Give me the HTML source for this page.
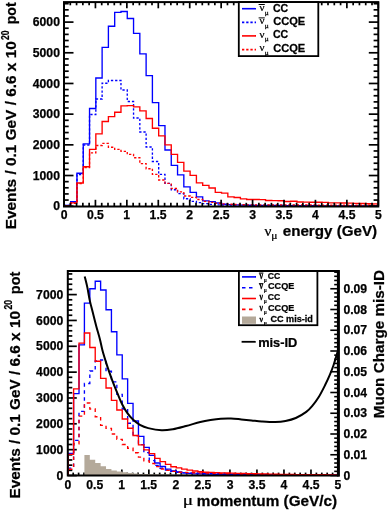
<!DOCTYPE html>
<html><head><meta charset="utf-8"><style>
html,body{margin:0;padding:0;background:#fff;width:390px;height:512px;overflow:hidden}
svg{display:block;will-change:transform}
text{stroke:#000;stroke-width:0.25px}
</style></head><body>
<svg width="390" height="512" viewBox="0 0 390 512" font-family='"Liberation Sans", sans-serif'>
<rect width="390" height="512" fill="#fff"/>
<path d="M64.40,206.20V205.30H70.69V201.60H76.97V173.20H83.26V143.80H89.54V108.50H95.83V78.00H102.12V47.40H108.40V26.20H114.69V12.30H120.97V11.50H127.26V18.50H133.55V33.30H139.83V53.80H146.12V75.60H152.40V102.60H158.69V125.60H164.98V150.00H171.26V165.40H177.55V174.90H183.83V186.90H190.12V192.30H196.41V196.90H202.69V200.80H208.98V201.60H215.26V203.00H221.55V204.20H227.84V204.60H234.12V204.90H240.41V205.10H246.69V205.20H252.98V205.30H259.27V205.40H265.55V205.40H271.84V205.50H278.12V205.50H284.41V205.60H290.70V205.60H296.98V205.60H303.27V205.70H309.55V205.70H315.84V205.70H322.13V205.80H328.41V205.80H334.70V205.80H340.98V205.80H347.27V205.80H353.56V205.90H359.84V205.90H366.13V205.90H372.41V205.90H378.70" fill="none" stroke="#0000ff" stroke-width="1.35"/>
<path d="M64.40,206.20V205.40H70.69V202.00H76.97V174.50H83.26V145.00H89.54V114.50H95.83V99.00H102.12V83.20H108.40V80.50H114.69V80.50H120.97V90.00H127.26V101.50H133.55V118.00H139.83V132.00H146.12V147.00H152.40V161.50H158.69V174.40H164.98V183.30H171.26V189.70H177.55V193.60H183.83V198.70H190.12V201.30H196.41V202.60H202.69V203.60H208.98V204.30H215.26V204.80H221.55V205.10H227.84V205.10H234.12V205.10H240.41V205.10H246.69V205.10H252.98V205.30H259.27V205.30H265.55V205.30H271.84V205.30H278.12V205.30H284.41V205.50H290.70V205.50H296.98V205.50H303.27V205.50H309.55V205.50H315.84V205.70H322.13V205.70H328.41V205.70H334.70V205.70H340.98V205.70H347.27V205.70H353.56V205.70H359.84V205.70H366.13V205.70H372.41V205.70H378.70" fill="none" stroke="#0000ff" stroke-width="1.35" stroke-dasharray="2.3 1.9"/>
<path d="M64.40,206.20V205.60H70.69V202.90H76.97V183.00H83.26V166.70H89.54V149.30H95.83V133.80H102.12V121.50H108.40V116.60H114.69V112.20H120.97V105.80H127.26V105.60H133.55V106.90H139.83V110.80H146.12V118.50H152.40V128.20H158.69V135.90H164.98V144.90H171.26V154.40H177.55V162.30H183.83V171.10H190.12V175.40H196.41V182.80H202.69V185.40H208.98V188.00H215.26V192.30H221.55V193.10H227.84V196.90H234.12V197.50H240.41V198.80H246.69V199.50H252.98V199.50H259.27V199.60H265.55V200.50H271.84V200.60H278.12V200.70H284.41V201.50H290.70V201.20H296.98V202.00H303.27V202.10H309.55V202.20H315.84V202.20H322.13V202.30H328.41V202.80H334.70V202.90H340.98V203.00H347.27V203.10H353.56V203.30H359.84V203.50H366.13V203.70H372.41V203.90H378.70" fill="none" stroke="#ff0000" stroke-width="1.35"/>
<path d="M64.40,206.20V205.70H70.69V203.20H76.97V183.50H83.26V167.50H89.54V152.80H95.83V145.50H102.12V143.30H108.40V147.20H114.69V149.30H120.97V151.30H127.26V154.40H133.55V157.70H139.83V163.60H146.12V168.70H152.40V174.40H158.69V180.00H164.98V183.30H171.26V188.50H177.55V191.80H183.83V196.00H190.12V197.40H196.41V199.50H202.69V201.30H208.98V202.40H215.26V203.20H221.55V203.80H227.84V204.20H234.12V204.50H240.41V204.70H246.69V204.90H252.98V205.00H259.27V205.00H265.55V205.00H271.84V205.00H278.12V205.00H284.41V205.00H290.70V205.00H296.98V205.00H303.27V205.00H309.55V205.00H315.84V205.20H322.13V205.20H328.41V205.20H334.70V205.20H340.98V205.20H347.27V205.20H353.56V205.20H359.84V205.20H366.13V205.20H372.41V205.20H378.70" fill="none" stroke="#ff0000" stroke-width="1.35" stroke-dasharray="2.3 1.9"/>
<line x1="64.00" y1="206.20" x2="73.50" y2="206.20" stroke="#000" stroke-width="1.7" />
<line x1="378.30" y1="206.20" x2="368.80" y2="206.20" stroke="#000" stroke-width="1.7" />
<line x1="64.00" y1="200.06" x2="68.70" y2="200.06" stroke="#000" stroke-width="1.7" />
<line x1="378.30" y1="200.06" x2="373.60" y2="200.06" stroke="#000" stroke-width="1.7" />
<line x1="64.00" y1="193.93" x2="68.70" y2="193.93" stroke="#000" stroke-width="1.7" />
<line x1="378.30" y1="193.93" x2="373.60" y2="193.93" stroke="#000" stroke-width="1.7" />
<line x1="64.00" y1="187.79" x2="68.70" y2="187.79" stroke="#000" stroke-width="1.7" />
<line x1="378.30" y1="187.79" x2="373.60" y2="187.79" stroke="#000" stroke-width="1.7" />
<line x1="64.00" y1="181.65" x2="68.70" y2="181.65" stroke="#000" stroke-width="1.7" />
<line x1="378.30" y1="181.65" x2="373.60" y2="181.65" stroke="#000" stroke-width="1.7" />
<line x1="64.00" y1="175.52" x2="73.50" y2="175.52" stroke="#000" stroke-width="1.7" />
<line x1="378.30" y1="175.52" x2="368.80" y2="175.52" stroke="#000" stroke-width="1.7" />
<line x1="64.00" y1="169.38" x2="68.70" y2="169.38" stroke="#000" stroke-width="1.7" />
<line x1="378.30" y1="169.38" x2="373.60" y2="169.38" stroke="#000" stroke-width="1.7" />
<line x1="64.00" y1="163.24" x2="68.70" y2="163.24" stroke="#000" stroke-width="1.7" />
<line x1="378.30" y1="163.24" x2="373.60" y2="163.24" stroke="#000" stroke-width="1.7" />
<line x1="64.00" y1="157.11" x2="68.70" y2="157.11" stroke="#000" stroke-width="1.7" />
<line x1="378.30" y1="157.11" x2="373.60" y2="157.11" stroke="#000" stroke-width="1.7" />
<line x1="64.00" y1="150.97" x2="68.70" y2="150.97" stroke="#000" stroke-width="1.7" />
<line x1="378.30" y1="150.97" x2="373.60" y2="150.97" stroke="#000" stroke-width="1.7" />
<line x1="64.00" y1="144.83" x2="73.50" y2="144.83" stroke="#000" stroke-width="1.7" />
<line x1="378.30" y1="144.83" x2="368.80" y2="144.83" stroke="#000" stroke-width="1.7" />
<line x1="64.00" y1="138.70" x2="68.70" y2="138.70" stroke="#000" stroke-width="1.7" />
<line x1="378.30" y1="138.70" x2="373.60" y2="138.70" stroke="#000" stroke-width="1.7" />
<line x1="64.00" y1="132.56" x2="68.70" y2="132.56" stroke="#000" stroke-width="1.7" />
<line x1="378.30" y1="132.56" x2="373.60" y2="132.56" stroke="#000" stroke-width="1.7" />
<line x1="64.00" y1="126.42" x2="68.70" y2="126.42" stroke="#000" stroke-width="1.7" />
<line x1="378.30" y1="126.42" x2="373.60" y2="126.42" stroke="#000" stroke-width="1.7" />
<line x1="64.00" y1="120.29" x2="68.70" y2="120.29" stroke="#000" stroke-width="1.7" />
<line x1="378.30" y1="120.29" x2="373.60" y2="120.29" stroke="#000" stroke-width="1.7" />
<line x1="64.00" y1="114.15" x2="73.50" y2="114.15" stroke="#000" stroke-width="1.7" />
<line x1="378.30" y1="114.15" x2="368.80" y2="114.15" stroke="#000" stroke-width="1.7" />
<line x1="64.00" y1="108.01" x2="68.70" y2="108.01" stroke="#000" stroke-width="1.7" />
<line x1="378.30" y1="108.01" x2="373.60" y2="108.01" stroke="#000" stroke-width="1.7" />
<line x1="64.00" y1="101.88" x2="68.70" y2="101.88" stroke="#000" stroke-width="1.7" />
<line x1="378.30" y1="101.88" x2="373.60" y2="101.88" stroke="#000" stroke-width="1.7" />
<line x1="64.00" y1="95.74" x2="68.70" y2="95.74" stroke="#000" stroke-width="1.7" />
<line x1="378.30" y1="95.74" x2="373.60" y2="95.74" stroke="#000" stroke-width="1.7" />
<line x1="64.00" y1="89.60" x2="68.70" y2="89.60" stroke="#000" stroke-width="1.7" />
<line x1="378.30" y1="89.60" x2="373.60" y2="89.60" stroke="#000" stroke-width="1.7" />
<line x1="64.00" y1="83.47" x2="73.50" y2="83.47" stroke="#000" stroke-width="1.7" />
<line x1="378.30" y1="83.47" x2="368.80" y2="83.47" stroke="#000" stroke-width="1.7" />
<line x1="64.00" y1="77.33" x2="68.70" y2="77.33" stroke="#000" stroke-width="1.7" />
<line x1="378.30" y1="77.33" x2="373.60" y2="77.33" stroke="#000" stroke-width="1.7" />
<line x1="64.00" y1="71.19" x2="68.70" y2="71.19" stroke="#000" stroke-width="1.7" />
<line x1="378.30" y1="71.19" x2="373.60" y2="71.19" stroke="#000" stroke-width="1.7" />
<line x1="64.00" y1="65.06" x2="68.70" y2="65.06" stroke="#000" stroke-width="1.7" />
<line x1="378.30" y1="65.06" x2="373.60" y2="65.06" stroke="#000" stroke-width="1.7" />
<line x1="64.00" y1="58.92" x2="68.70" y2="58.92" stroke="#000" stroke-width="1.7" />
<line x1="378.30" y1="58.92" x2="373.60" y2="58.92" stroke="#000" stroke-width="1.7" />
<line x1="64.00" y1="52.78" x2="73.50" y2="52.78" stroke="#000" stroke-width="1.7" />
<line x1="378.30" y1="52.78" x2="368.80" y2="52.78" stroke="#000" stroke-width="1.7" />
<line x1="64.00" y1="46.65" x2="68.70" y2="46.65" stroke="#000" stroke-width="1.7" />
<line x1="378.30" y1="46.65" x2="373.60" y2="46.65" stroke="#000" stroke-width="1.7" />
<line x1="64.00" y1="40.51" x2="68.70" y2="40.51" stroke="#000" stroke-width="1.7" />
<line x1="378.30" y1="40.51" x2="373.60" y2="40.51" stroke="#000" stroke-width="1.7" />
<line x1="64.00" y1="34.38" x2="68.70" y2="34.38" stroke="#000" stroke-width="1.7" />
<line x1="378.30" y1="34.38" x2="373.60" y2="34.38" stroke="#000" stroke-width="1.7" />
<line x1="64.00" y1="28.24" x2="68.70" y2="28.24" stroke="#000" stroke-width="1.7" />
<line x1="378.30" y1="28.24" x2="373.60" y2="28.24" stroke="#000" stroke-width="1.7" />
<line x1="64.00" y1="22.10" x2="73.50" y2="22.10" stroke="#000" stroke-width="1.7" />
<line x1="378.30" y1="22.10" x2="368.80" y2="22.10" stroke="#000" stroke-width="1.7" />
<line x1="64.00" y1="15.97" x2="68.70" y2="15.97" stroke="#000" stroke-width="1.7" />
<line x1="378.30" y1="15.97" x2="373.60" y2="15.97" stroke="#000" stroke-width="1.7" />
<line x1="64.00" y1="9.83" x2="68.70" y2="9.83" stroke="#000" stroke-width="1.7" />
<line x1="378.30" y1="9.83" x2="373.60" y2="9.83" stroke="#000" stroke-width="1.7" />
<line x1="64.00" y1="3.69" x2="68.70" y2="3.69" stroke="#000" stroke-width="1.7" />
<line x1="378.30" y1="3.69" x2="373.60" y2="3.69" stroke="#000" stroke-width="1.7" />
<line x1="64.00" y1="206.20" x2="64.00" y2="199.80" stroke="#000" stroke-width="1.7" />
<line x1="64.00" y1="2.10" x2="64.00" y2="8.30" stroke="#000" stroke-width="1.7" />
<line x1="70.29" y1="206.20" x2="70.29" y2="202.80" stroke="#000" stroke-width="1.7" />
<line x1="70.29" y1="2.10" x2="70.29" y2="5.30" stroke="#000" stroke-width="1.7" />
<line x1="76.57" y1="206.20" x2="76.57" y2="202.80" stroke="#000" stroke-width="1.7" />
<line x1="76.57" y1="2.10" x2="76.57" y2="5.30" stroke="#000" stroke-width="1.7" />
<line x1="82.86" y1="206.20" x2="82.86" y2="202.80" stroke="#000" stroke-width="1.7" />
<line x1="82.86" y1="2.10" x2="82.86" y2="5.30" stroke="#000" stroke-width="1.7" />
<line x1="89.14" y1="206.20" x2="89.14" y2="202.80" stroke="#000" stroke-width="1.7" />
<line x1="89.14" y1="2.10" x2="89.14" y2="5.30" stroke="#000" stroke-width="1.7" />
<line x1="95.43" y1="206.20" x2="95.43" y2="199.80" stroke="#000" stroke-width="1.7" />
<line x1="95.43" y1="2.10" x2="95.43" y2="8.30" stroke="#000" stroke-width="1.7" />
<line x1="101.72" y1="206.20" x2="101.72" y2="202.80" stroke="#000" stroke-width="1.7" />
<line x1="101.72" y1="2.10" x2="101.72" y2="5.30" stroke="#000" stroke-width="1.7" />
<line x1="108.00" y1="206.20" x2="108.00" y2="202.80" stroke="#000" stroke-width="1.7" />
<line x1="108.00" y1="2.10" x2="108.00" y2="5.30" stroke="#000" stroke-width="1.7" />
<line x1="114.29" y1="206.20" x2="114.29" y2="202.80" stroke="#000" stroke-width="1.7" />
<line x1="114.29" y1="2.10" x2="114.29" y2="5.30" stroke="#000" stroke-width="1.7" />
<line x1="120.57" y1="206.20" x2="120.57" y2="202.80" stroke="#000" stroke-width="1.7" />
<line x1="120.57" y1="2.10" x2="120.57" y2="5.30" stroke="#000" stroke-width="1.7" />
<line x1="126.86" y1="206.20" x2="126.86" y2="199.80" stroke="#000" stroke-width="1.7" />
<line x1="126.86" y1="2.10" x2="126.86" y2="8.30" stroke="#000" stroke-width="1.7" />
<line x1="133.15" y1="206.20" x2="133.15" y2="202.80" stroke="#000" stroke-width="1.7" />
<line x1="133.15" y1="2.10" x2="133.15" y2="5.30" stroke="#000" stroke-width="1.7" />
<line x1="139.43" y1="206.20" x2="139.43" y2="202.80" stroke="#000" stroke-width="1.7" />
<line x1="139.43" y1="2.10" x2="139.43" y2="5.30" stroke="#000" stroke-width="1.7" />
<line x1="145.72" y1="206.20" x2="145.72" y2="202.80" stroke="#000" stroke-width="1.7" />
<line x1="145.72" y1="2.10" x2="145.72" y2="5.30" stroke="#000" stroke-width="1.7" />
<line x1="152.00" y1="206.20" x2="152.00" y2="202.80" stroke="#000" stroke-width="1.7" />
<line x1="152.00" y1="2.10" x2="152.00" y2="5.30" stroke="#000" stroke-width="1.7" />
<line x1="158.29" y1="206.20" x2="158.29" y2="199.80" stroke="#000" stroke-width="1.7" />
<line x1="158.29" y1="2.10" x2="158.29" y2="8.30" stroke="#000" stroke-width="1.7" />
<line x1="164.58" y1="206.20" x2="164.58" y2="202.80" stroke="#000" stroke-width="1.7" />
<line x1="164.58" y1="2.10" x2="164.58" y2="5.30" stroke="#000" stroke-width="1.7" />
<line x1="170.86" y1="206.20" x2="170.86" y2="202.80" stroke="#000" stroke-width="1.7" />
<line x1="170.86" y1="2.10" x2="170.86" y2="5.30" stroke="#000" stroke-width="1.7" />
<line x1="177.15" y1="206.20" x2="177.15" y2="202.80" stroke="#000" stroke-width="1.7" />
<line x1="177.15" y1="2.10" x2="177.15" y2="5.30" stroke="#000" stroke-width="1.7" />
<line x1="183.43" y1="206.20" x2="183.43" y2="202.80" stroke="#000" stroke-width="1.7" />
<line x1="183.43" y1="2.10" x2="183.43" y2="5.30" stroke="#000" stroke-width="1.7" />
<line x1="189.72" y1="206.20" x2="189.72" y2="199.80" stroke="#000" stroke-width="1.7" />
<line x1="189.72" y1="2.10" x2="189.72" y2="8.30" stroke="#000" stroke-width="1.7" />
<line x1="196.01" y1="206.20" x2="196.01" y2="202.80" stroke="#000" stroke-width="1.7" />
<line x1="196.01" y1="2.10" x2="196.01" y2="5.30" stroke="#000" stroke-width="1.7" />
<line x1="202.29" y1="206.20" x2="202.29" y2="202.80" stroke="#000" stroke-width="1.7" />
<line x1="202.29" y1="2.10" x2="202.29" y2="5.30" stroke="#000" stroke-width="1.7" />
<line x1="208.58" y1="206.20" x2="208.58" y2="202.80" stroke="#000" stroke-width="1.7" />
<line x1="208.58" y1="2.10" x2="208.58" y2="5.30" stroke="#000" stroke-width="1.7" />
<line x1="214.86" y1="206.20" x2="214.86" y2="202.80" stroke="#000" stroke-width="1.7" />
<line x1="214.86" y1="2.10" x2="214.86" y2="5.30" stroke="#000" stroke-width="1.7" />
<line x1="221.15" y1="206.20" x2="221.15" y2="199.80" stroke="#000" stroke-width="1.7" />
<line x1="221.15" y1="2.10" x2="221.15" y2="8.30" stroke="#000" stroke-width="1.7" />
<line x1="227.44" y1="206.20" x2="227.44" y2="202.80" stroke="#000" stroke-width="1.7" />
<line x1="227.44" y1="2.10" x2="227.44" y2="5.30" stroke="#000" stroke-width="1.7" />
<line x1="233.72" y1="206.20" x2="233.72" y2="202.80" stroke="#000" stroke-width="1.7" />
<line x1="233.72" y1="2.10" x2="233.72" y2="5.30" stroke="#000" stroke-width="1.7" />
<line x1="240.01" y1="206.20" x2="240.01" y2="202.80" stroke="#000" stroke-width="1.7" />
<line x1="240.01" y1="2.10" x2="240.01" y2="5.30" stroke="#000" stroke-width="1.7" />
<line x1="246.29" y1="206.20" x2="246.29" y2="202.80" stroke="#000" stroke-width="1.7" />
<line x1="246.29" y1="2.10" x2="246.29" y2="5.30" stroke="#000" stroke-width="1.7" />
<line x1="252.58" y1="206.20" x2="252.58" y2="199.80" stroke="#000" stroke-width="1.7" />
<line x1="252.58" y1="2.10" x2="252.58" y2="8.30" stroke="#000" stroke-width="1.7" />
<line x1="258.87" y1="206.20" x2="258.87" y2="202.80" stroke="#000" stroke-width="1.7" />
<line x1="258.87" y1="2.10" x2="258.87" y2="5.30" stroke="#000" stroke-width="1.7" />
<line x1="265.15" y1="206.20" x2="265.15" y2="202.80" stroke="#000" stroke-width="1.7" />
<line x1="265.15" y1="2.10" x2="265.15" y2="5.30" stroke="#000" stroke-width="1.7" />
<line x1="271.44" y1="206.20" x2="271.44" y2="202.80" stroke="#000" stroke-width="1.7" />
<line x1="271.44" y1="2.10" x2="271.44" y2="5.30" stroke="#000" stroke-width="1.7" />
<line x1="277.72" y1="206.20" x2="277.72" y2="202.80" stroke="#000" stroke-width="1.7" />
<line x1="277.72" y1="2.10" x2="277.72" y2="5.30" stroke="#000" stroke-width="1.7" />
<line x1="284.01" y1="206.20" x2="284.01" y2="199.80" stroke="#000" stroke-width="1.7" />
<line x1="284.01" y1="2.10" x2="284.01" y2="8.30" stroke="#000" stroke-width="1.7" />
<line x1="290.30" y1="206.20" x2="290.30" y2="202.80" stroke="#000" stroke-width="1.7" />
<line x1="290.30" y1="2.10" x2="290.30" y2="5.30" stroke="#000" stroke-width="1.7" />
<line x1="296.58" y1="206.20" x2="296.58" y2="202.80" stroke="#000" stroke-width="1.7" />
<line x1="296.58" y1="2.10" x2="296.58" y2="5.30" stroke="#000" stroke-width="1.7" />
<line x1="302.87" y1="206.20" x2="302.87" y2="202.80" stroke="#000" stroke-width="1.7" />
<line x1="302.87" y1="2.10" x2="302.87" y2="5.30" stroke="#000" stroke-width="1.7" />
<line x1="309.15" y1="206.20" x2="309.15" y2="202.80" stroke="#000" stroke-width="1.7" />
<line x1="309.15" y1="2.10" x2="309.15" y2="5.30" stroke="#000" stroke-width="1.7" />
<line x1="315.44" y1="206.20" x2="315.44" y2="199.80" stroke="#000" stroke-width="1.7" />
<line x1="315.44" y1="2.10" x2="315.44" y2="8.30" stroke="#000" stroke-width="1.7" />
<line x1="321.73" y1="206.20" x2="321.73" y2="202.80" stroke="#000" stroke-width="1.7" />
<line x1="321.73" y1="2.10" x2="321.73" y2="5.30" stroke="#000" stroke-width="1.7" />
<line x1="328.01" y1="206.20" x2="328.01" y2="202.80" stroke="#000" stroke-width="1.7" />
<line x1="328.01" y1="2.10" x2="328.01" y2="5.30" stroke="#000" stroke-width="1.7" />
<line x1="334.30" y1="206.20" x2="334.30" y2="202.80" stroke="#000" stroke-width="1.7" />
<line x1="334.30" y1="2.10" x2="334.30" y2="5.30" stroke="#000" stroke-width="1.7" />
<line x1="340.58" y1="206.20" x2="340.58" y2="202.80" stroke="#000" stroke-width="1.7" />
<line x1="340.58" y1="2.10" x2="340.58" y2="5.30" stroke="#000" stroke-width="1.7" />
<line x1="346.87" y1="206.20" x2="346.87" y2="199.80" stroke="#000" stroke-width="1.7" />
<line x1="346.87" y1="2.10" x2="346.87" y2="8.30" stroke="#000" stroke-width="1.7" />
<line x1="353.16" y1="206.20" x2="353.16" y2="202.80" stroke="#000" stroke-width="1.7" />
<line x1="353.16" y1="2.10" x2="353.16" y2="5.30" stroke="#000" stroke-width="1.7" />
<line x1="359.44" y1="206.20" x2="359.44" y2="202.80" stroke="#000" stroke-width="1.7" />
<line x1="359.44" y1="2.10" x2="359.44" y2="5.30" stroke="#000" stroke-width="1.7" />
<line x1="365.73" y1="206.20" x2="365.73" y2="202.80" stroke="#000" stroke-width="1.7" />
<line x1="365.73" y1="2.10" x2="365.73" y2="5.30" stroke="#000" stroke-width="1.7" />
<line x1="372.01" y1="206.20" x2="372.01" y2="202.80" stroke="#000" stroke-width="1.7" />
<line x1="372.01" y1="2.10" x2="372.01" y2="5.30" stroke="#000" stroke-width="1.7" />
<line x1="378.30" y1="206.20" x2="378.30" y2="199.80" stroke="#000" stroke-width="1.7" />
<line x1="378.30" y1="2.10" x2="378.30" y2="8.30" stroke="#000" stroke-width="1.7" />
<rect x="64.0" y="2.1" width="314.3" height="204.4" fill="none" stroke="#000" stroke-width="2"/>
<text transform="translate(53.16,210.41) scale(1.0000,1)" font-family='"Liberation Sans", sans-serif' font-weight="bold" font-size="12.20">0</text>
<text transform="translate(32.80,179.73) scale(1.0000,1)" font-family='"Liberation Sans", sans-serif' font-weight="bold" font-size="12.20">1000</text>
<text transform="translate(32.80,149.04) scale(1.0000,1)" font-family='"Liberation Sans", sans-serif' font-weight="bold" font-size="12.20">2000</text>
<text transform="translate(32.80,118.36) scale(1.0000,1)" font-family='"Liberation Sans", sans-serif' font-weight="bold" font-size="12.20">3000</text>
<text transform="translate(32.80,87.68) scale(1.0000,1)" font-family='"Liberation Sans", sans-serif' font-weight="bold" font-size="12.20">4000</text>
<text transform="translate(32.80,56.99) scale(1.0000,1)" font-family='"Liberation Sans", sans-serif' font-weight="bold" font-size="12.20">5000</text>
<text transform="translate(32.80,26.31) scale(1.0000,1)" font-family='"Liberation Sans", sans-serif' font-weight="bold" font-size="12.20">6000</text>
<text transform="translate(60.65,218.84) scale(1.0000,1)" font-family='"Liberation Sans", sans-serif' font-weight="bold" font-size="12.20">0</text>
<text transform="translate(86.93,218.84) scale(1.0000,1)" font-family='"Liberation Sans", sans-serif' font-weight="bold" font-size="12.20">0.5</text>
<text transform="translate(123.26,218.72) scale(1.0000,1)" font-family='"Liberation Sans", sans-serif' font-weight="bold" font-size="12.20">1</text>
<text transform="translate(149.60,218.72) scale(1.0000,1)" font-family='"Liberation Sans", sans-serif' font-weight="bold" font-size="12.20">1.5</text>
<text transform="translate(186.36,218.84) scale(1.0000,1)" font-family='"Liberation Sans", sans-serif' font-weight="bold" font-size="12.20">2</text>
<text transform="translate(212.65,218.84) scale(1.0000,1)" font-family='"Liberation Sans", sans-serif' font-weight="bold" font-size="12.20">2.5</text>
<text transform="translate(249.29,218.84) scale(1.0000,1)" font-family='"Liberation Sans", sans-serif' font-weight="bold" font-size="12.20">3</text>
<text transform="translate(275.57,218.84) scale(1.0000,1)" font-family='"Liberation Sans", sans-serif' font-weight="bold" font-size="12.20">3.5</text>
<text transform="translate(311.96,218.72) scale(1.0000,1)" font-family='"Liberation Sans", sans-serif' font-weight="bold" font-size="12.20">4</text>
<text transform="translate(338.49,218.72) scale(1.0000,1)" font-family='"Liberation Sans", sans-serif' font-weight="bold" font-size="12.20">4.5</text>
<text transform="translate(374.88,218.72) scale(1.0000,1)" font-family='"Liberation Sans", sans-serif' font-weight="bold" font-size="12.20">5</text>
<text transform="translate(264.40,235.85) scale(1.0306,1)" font-family='"Liberation Serif", serif' font-weight="normal" font-size="14.89" fill="#000">ν</text>
<text transform="translate(271.29,238.64) scale(1.1097,1)" font-family='"Liberation Serif", serif' font-weight="normal" font-size="10.30" fill="#000">μ</text>
<text transform="translate(282.74,235.60) scale(1.0249,1)" font-family='"Liberation Sans", sans-serif' font-weight="bold" font-size="14.80" fill="#000">energy (GeV)</text>
<text transform="translate(16.40,229.32) rotate(-90) scale(0.9927,1)" font-family='"Liberation Sans", sans-serif' font-weight="bold" font-size="15.50">Events / 0.1 GeV / 6.6 x 10</text>
<text transform="translate(9.10,40.06) rotate(-90) scale(0.8445,1)" font-family='"Liberation Sans", sans-serif' font-weight="bold" font-size="10.30">20</text>
<text transform="translate(16.20,24.25) rotate(-90) scale(0.9104,1)" font-family='"Liberation Sans", sans-serif' font-weight="bold" font-size="15.50">pot</text>
<rect x="238.8" y="2.1" width="79.5" height="54.0" fill="#fff" stroke="#000" stroke-width="1.8"/>
<line x1="242.00" y1="8.70" x2="256.00" y2="8.70" stroke="#0000ff" stroke-width="1.6" />
<text transform="translate(259.40,10.99) scale(1.0274,1)" font-family='"Liberation Serif", serif' font-weight="normal" font-size="10.64" fill="#000">ν</text>
<text transform="translate(264.71,14.59) scale(1.0989,1)" font-family='"Liberation Serif", serif' font-weight="normal" font-size="6.72" fill="#000">μ</text>
<line x1="258.60" y1="4.50" x2="264.80" y2="4.50" stroke="#000" stroke-width="1.0" />
<text transform="translate(272.88,11.50) scale(0.9691,1)" font-family='"Liberation Sans", sans-serif' font-weight="bold" font-size="10.90" fill="#000">CC</text>
<line x1="242.00" y1="22.40" x2="256.00" y2="22.40" stroke="#0000ff" stroke-width="1.6" stroke-dasharray="2.3 1.9"/>
<text transform="translate(259.40,24.39) scale(1.0274,1)" font-family='"Liberation Serif", serif' font-weight="normal" font-size="10.64" fill="#000">ν</text>
<text transform="translate(264.71,27.99) scale(1.0989,1)" font-family='"Liberation Serif", serif' font-weight="normal" font-size="6.72" fill="#000">μ</text>
<line x1="258.60" y1="17.90" x2="264.80" y2="17.90" stroke="#000" stroke-width="1.0" />
<text transform="translate(273.16,24.90) scale(1.0179,1)" font-family='"Liberation Sans", sans-serif' font-weight="bold" font-size="10.90" fill="#000">CCQE</text>
<line x1="242.00" y1="35.90" x2="256.00" y2="35.90" stroke="#ff0000" stroke-width="1.6" />
<text transform="translate(259.40,37.79) scale(1.0274,1)" font-family='"Liberation Serif", serif' font-weight="normal" font-size="10.64" fill="#000">ν</text>
<text transform="translate(264.71,41.39) scale(1.0989,1)" font-family='"Liberation Serif", serif' font-weight="normal" font-size="6.72" fill="#000">μ</text>
<text transform="translate(272.88,38.30) scale(0.9691,1)" font-family='"Liberation Sans", sans-serif' font-weight="bold" font-size="10.90" fill="#000">CC</text>
<line x1="242.00" y1="49.60" x2="256.00" y2="49.60" stroke="#ff0000" stroke-width="1.6" stroke-dasharray="2.3 1.9"/>
<text transform="translate(259.40,51.09) scale(1.0274,1)" font-family='"Liberation Serif", serif' font-weight="normal" font-size="10.64" fill="#000">ν</text>
<text transform="translate(264.71,54.69) scale(1.0989,1)" font-family='"Liberation Serif", serif' font-weight="normal" font-size="6.72" fill="#000">μ</text>
<text transform="translate(273.16,51.60) scale(1.0179,1)" font-family='"Liberation Sans", sans-serif' font-weight="bold" font-size="10.90" fill="#000">CCQE</text>
<line x1="67.80" y1="475.50" x2="76.80" y2="475.50" stroke="#000" stroke-width="1.7" />
<line x1="67.80" y1="470.33" x2="72.30" y2="470.33" stroke="#000" stroke-width="1.7" />
<line x1="67.80" y1="465.16" x2="72.30" y2="465.16" stroke="#000" stroke-width="1.7" />
<line x1="67.80" y1="459.99" x2="72.30" y2="459.99" stroke="#000" stroke-width="1.7" />
<line x1="67.80" y1="454.83" x2="72.30" y2="454.83" stroke="#000" stroke-width="1.7" />
<line x1="67.80" y1="449.66" x2="76.80" y2="449.66" stroke="#000" stroke-width="1.7" />
<line x1="67.80" y1="444.49" x2="72.30" y2="444.49" stroke="#000" stroke-width="1.7" />
<line x1="67.80" y1="439.32" x2="72.30" y2="439.32" stroke="#000" stroke-width="1.7" />
<line x1="67.80" y1="434.15" x2="72.30" y2="434.15" stroke="#000" stroke-width="1.7" />
<line x1="67.80" y1="428.98" x2="72.30" y2="428.98" stroke="#000" stroke-width="1.7" />
<line x1="67.80" y1="423.81" x2="76.80" y2="423.81" stroke="#000" stroke-width="1.7" />
<line x1="67.80" y1="418.65" x2="72.30" y2="418.65" stroke="#000" stroke-width="1.7" />
<line x1="67.80" y1="413.48" x2="72.30" y2="413.48" stroke="#000" stroke-width="1.7" />
<line x1="67.80" y1="408.31" x2="72.30" y2="408.31" stroke="#000" stroke-width="1.7" />
<line x1="67.80" y1="403.14" x2="72.30" y2="403.14" stroke="#000" stroke-width="1.7" />
<line x1="67.80" y1="397.97" x2="76.80" y2="397.97" stroke="#000" stroke-width="1.7" />
<line x1="67.80" y1="392.80" x2="72.30" y2="392.80" stroke="#000" stroke-width="1.7" />
<line x1="67.80" y1="387.63" x2="72.30" y2="387.63" stroke="#000" stroke-width="1.7" />
<line x1="67.80" y1="382.47" x2="72.30" y2="382.47" stroke="#000" stroke-width="1.7" />
<line x1="67.80" y1="377.30" x2="72.30" y2="377.30" stroke="#000" stroke-width="1.7" />
<line x1="67.80" y1="372.13" x2="76.80" y2="372.13" stroke="#000" stroke-width="1.7" />
<line x1="67.80" y1="366.96" x2="72.30" y2="366.96" stroke="#000" stroke-width="1.7" />
<line x1="67.80" y1="361.79" x2="72.30" y2="361.79" stroke="#000" stroke-width="1.7" />
<line x1="67.80" y1="356.62" x2="72.30" y2="356.62" stroke="#000" stroke-width="1.7" />
<line x1="67.80" y1="351.45" x2="72.30" y2="351.45" stroke="#000" stroke-width="1.7" />
<line x1="67.80" y1="346.28" x2="76.80" y2="346.28" stroke="#000" stroke-width="1.7" />
<line x1="67.80" y1="341.12" x2="72.30" y2="341.12" stroke="#000" stroke-width="1.7" />
<line x1="67.80" y1="335.95" x2="72.30" y2="335.95" stroke="#000" stroke-width="1.7" />
<line x1="67.80" y1="330.78" x2="72.30" y2="330.78" stroke="#000" stroke-width="1.7" />
<line x1="67.80" y1="325.61" x2="72.30" y2="325.61" stroke="#000" stroke-width="1.7" />
<line x1="67.80" y1="320.44" x2="76.80" y2="320.44" stroke="#000" stroke-width="1.7" />
<line x1="67.80" y1="315.27" x2="72.30" y2="315.27" stroke="#000" stroke-width="1.7" />
<line x1="67.80" y1="310.10" x2="72.30" y2="310.10" stroke="#000" stroke-width="1.7" />
<line x1="67.80" y1="304.94" x2="72.30" y2="304.94" stroke="#000" stroke-width="1.7" />
<line x1="67.80" y1="299.77" x2="72.30" y2="299.77" stroke="#000" stroke-width="1.7" />
<line x1="67.80" y1="294.60" x2="76.80" y2="294.60" stroke="#000" stroke-width="1.7" />
<line x1="67.80" y1="289.43" x2="72.30" y2="289.43" stroke="#000" stroke-width="1.7" />
<line x1="67.80" y1="284.26" x2="72.30" y2="284.26" stroke="#000" stroke-width="1.7" />
<line x1="67.80" y1="279.09" x2="72.30" y2="279.09" stroke="#000" stroke-width="1.7" />
<line x1="67.80" y1="273.92" x2="72.30" y2="273.92" stroke="#000" stroke-width="1.7" />
<line x1="67.80" y1="475.50" x2="67.80" y2="469.50" stroke="#000" stroke-width="1.7" />
<line x1="73.20" y1="475.50" x2="73.20" y2="472.60" stroke="#000" stroke-width="1.7" />
<line x1="78.61" y1="475.50" x2="78.61" y2="472.60" stroke="#000" stroke-width="1.7" />
<line x1="84.01" y1="475.50" x2="84.01" y2="472.60" stroke="#000" stroke-width="1.7" />
<line x1="89.42" y1="475.50" x2="89.42" y2="472.60" stroke="#000" stroke-width="1.7" />
<line x1="94.82" y1="475.50" x2="94.82" y2="469.50" stroke="#000" stroke-width="1.7" />
<line x1="100.22" y1="475.50" x2="100.22" y2="472.60" stroke="#000" stroke-width="1.7" />
<line x1="105.63" y1="475.50" x2="105.63" y2="472.60" stroke="#000" stroke-width="1.7" />
<line x1="111.03" y1="475.50" x2="111.03" y2="472.60" stroke="#000" stroke-width="1.7" />
<line x1="116.44" y1="475.50" x2="116.44" y2="472.60" stroke="#000" stroke-width="1.7" />
<line x1="121.84" y1="475.50" x2="121.84" y2="469.50" stroke="#000" stroke-width="1.7" />
<line x1="127.24" y1="475.50" x2="127.24" y2="472.60" stroke="#000" stroke-width="1.7" />
<line x1="132.65" y1="475.50" x2="132.65" y2="472.60" stroke="#000" stroke-width="1.7" />
<line x1="138.05" y1="475.50" x2="138.05" y2="472.60" stroke="#000" stroke-width="1.7" />
<line x1="143.46" y1="475.50" x2="143.46" y2="472.60" stroke="#000" stroke-width="1.7" />
<line x1="148.86" y1="475.50" x2="148.86" y2="469.50" stroke="#000" stroke-width="1.7" />
<line x1="154.26" y1="475.50" x2="154.26" y2="472.60" stroke="#000" stroke-width="1.7" />
<line x1="159.67" y1="475.50" x2="159.67" y2="472.60" stroke="#000" stroke-width="1.7" />
<line x1="165.07" y1="475.50" x2="165.07" y2="472.60" stroke="#000" stroke-width="1.7" />
<line x1="170.48" y1="475.50" x2="170.48" y2="472.60" stroke="#000" stroke-width="1.7" />
<line x1="175.88" y1="475.50" x2="175.88" y2="469.50" stroke="#000" stroke-width="1.7" />
<line x1="181.28" y1="475.50" x2="181.28" y2="472.60" stroke="#000" stroke-width="1.7" />
<line x1="186.69" y1="475.50" x2="186.69" y2="472.60" stroke="#000" stroke-width="1.7" />
<line x1="192.09" y1="475.50" x2="192.09" y2="472.60" stroke="#000" stroke-width="1.7" />
<line x1="197.50" y1="475.50" x2="197.50" y2="472.60" stroke="#000" stroke-width="1.7" />
<line x1="202.90" y1="475.50" x2="202.90" y2="469.50" stroke="#000" stroke-width="1.7" />
<line x1="208.30" y1="475.50" x2="208.30" y2="472.60" stroke="#000" stroke-width="1.7" />
<line x1="213.71" y1="475.50" x2="213.71" y2="472.60" stroke="#000" stroke-width="1.7" />
<line x1="219.11" y1="475.50" x2="219.11" y2="472.60" stroke="#000" stroke-width="1.7" />
<line x1="224.52" y1="475.50" x2="224.52" y2="472.60" stroke="#000" stroke-width="1.7" />
<line x1="229.92" y1="475.50" x2="229.92" y2="469.50" stroke="#000" stroke-width="1.7" />
<line x1="235.32" y1="475.50" x2="235.32" y2="472.60" stroke="#000" stroke-width="1.7" />
<line x1="240.73" y1="475.50" x2="240.73" y2="472.60" stroke="#000" stroke-width="1.7" />
<line x1="246.13" y1="475.50" x2="246.13" y2="472.60" stroke="#000" stroke-width="1.7" />
<line x1="251.54" y1="475.50" x2="251.54" y2="472.60" stroke="#000" stroke-width="1.7" />
<line x1="256.94" y1="475.50" x2="256.94" y2="469.50" stroke="#000" stroke-width="1.7" />
<line x1="262.34" y1="475.50" x2="262.34" y2="472.60" stroke="#000" stroke-width="1.7" />
<line x1="267.75" y1="475.50" x2="267.75" y2="472.60" stroke="#000" stroke-width="1.7" />
<line x1="273.15" y1="475.50" x2="273.15" y2="472.60" stroke="#000" stroke-width="1.7" />
<line x1="278.56" y1="475.50" x2="278.56" y2="472.60" stroke="#000" stroke-width="1.7" />
<line x1="283.96" y1="475.50" x2="283.96" y2="469.50" stroke="#000" stroke-width="1.7" />
<line x1="289.36" y1="475.50" x2="289.36" y2="472.60" stroke="#000" stroke-width="1.7" />
<line x1="294.77" y1="475.50" x2="294.77" y2="472.60" stroke="#000" stroke-width="1.7" />
<line x1="300.17" y1="475.50" x2="300.17" y2="472.60" stroke="#000" stroke-width="1.7" />
<line x1="305.58" y1="475.50" x2="305.58" y2="472.60" stroke="#000" stroke-width="1.7" />
<line x1="310.98" y1="475.50" x2="310.98" y2="469.50" stroke="#000" stroke-width="1.7" />
<line x1="316.38" y1="475.50" x2="316.38" y2="472.60" stroke="#000" stroke-width="1.7" />
<line x1="321.79" y1="475.50" x2="321.79" y2="472.60" stroke="#000" stroke-width="1.7" />
<line x1="327.19" y1="475.50" x2="327.19" y2="472.60" stroke="#000" stroke-width="1.7" />
<line x1="332.60" y1="475.50" x2="332.60" y2="472.60" stroke="#000" stroke-width="1.7" />
<line x1="338.00" y1="475.50" x2="338.00" y2="469.50" stroke="#000" stroke-width="1.7" />
<line x1="338.00" y1="475.50" x2="330.30" y2="475.50" stroke="#000" stroke-width="1.6" />
<line x1="338.00" y1="471.35" x2="334.20" y2="471.35" stroke="#000" stroke-width="1.6" />
<line x1="338.00" y1="467.20" x2="334.20" y2="467.20" stroke="#000" stroke-width="1.6" />
<line x1="338.00" y1="463.05" x2="334.20" y2="463.05" stroke="#000" stroke-width="1.6" />
<line x1="338.00" y1="458.90" x2="334.20" y2="458.90" stroke="#000" stroke-width="1.6" />
<line x1="338.00" y1="454.75" x2="330.30" y2="454.75" stroke="#000" stroke-width="1.6" />
<line x1="338.00" y1="450.60" x2="334.20" y2="450.60" stroke="#000" stroke-width="1.6" />
<line x1="338.00" y1="446.45" x2="334.20" y2="446.45" stroke="#000" stroke-width="1.6" />
<line x1="338.00" y1="442.30" x2="334.20" y2="442.30" stroke="#000" stroke-width="1.6" />
<line x1="338.00" y1="438.15" x2="334.20" y2="438.15" stroke="#000" stroke-width="1.6" />
<line x1="338.00" y1="434.00" x2="330.30" y2="434.00" stroke="#000" stroke-width="1.6" />
<line x1="338.00" y1="429.85" x2="334.20" y2="429.85" stroke="#000" stroke-width="1.6" />
<line x1="338.00" y1="425.70" x2="334.20" y2="425.70" stroke="#000" stroke-width="1.6" />
<line x1="338.00" y1="421.55" x2="334.20" y2="421.55" stroke="#000" stroke-width="1.6" />
<line x1="338.00" y1="417.40" x2="334.20" y2="417.40" stroke="#000" stroke-width="1.6" />
<line x1="338.00" y1="413.25" x2="330.30" y2="413.25" stroke="#000" stroke-width="1.6" />
<line x1="338.00" y1="409.10" x2="334.20" y2="409.10" stroke="#000" stroke-width="1.6" />
<line x1="338.00" y1="404.95" x2="334.20" y2="404.95" stroke="#000" stroke-width="1.6" />
<line x1="338.00" y1="400.80" x2="334.20" y2="400.80" stroke="#000" stroke-width="1.6" />
<line x1="338.00" y1="396.65" x2="334.20" y2="396.65" stroke="#000" stroke-width="1.6" />
<line x1="338.00" y1="392.50" x2="330.30" y2="392.50" stroke="#000" stroke-width="1.6" />
<line x1="338.00" y1="388.35" x2="334.20" y2="388.35" stroke="#000" stroke-width="1.6" />
<line x1="338.00" y1="384.20" x2="334.20" y2="384.20" stroke="#000" stroke-width="1.6" />
<line x1="338.00" y1="380.05" x2="334.20" y2="380.05" stroke="#000" stroke-width="1.6" />
<line x1="338.00" y1="375.90" x2="334.20" y2="375.90" stroke="#000" stroke-width="1.6" />
<line x1="338.00" y1="371.75" x2="330.30" y2="371.75" stroke="#000" stroke-width="1.6" />
<line x1="338.00" y1="367.60" x2="334.20" y2="367.60" stroke="#000" stroke-width="1.6" />
<line x1="338.00" y1="363.45" x2="334.20" y2="363.45" stroke="#000" stroke-width="1.6" />
<line x1="338.00" y1="359.30" x2="334.20" y2="359.30" stroke="#000" stroke-width="1.6" />
<line x1="338.00" y1="355.15" x2="334.20" y2="355.15" stroke="#000" stroke-width="1.6" />
<line x1="338.00" y1="351.00" x2="330.30" y2="351.00" stroke="#000" stroke-width="1.6" />
<line x1="338.00" y1="346.85" x2="334.20" y2="346.85" stroke="#000" stroke-width="1.6" />
<line x1="338.00" y1="342.70" x2="334.20" y2="342.70" stroke="#000" stroke-width="1.6" />
<line x1="338.00" y1="338.55" x2="334.20" y2="338.55" stroke="#000" stroke-width="1.6" />
<line x1="338.00" y1="334.40" x2="334.20" y2="334.40" stroke="#000" stroke-width="1.6" />
<line x1="338.00" y1="330.25" x2="330.30" y2="330.25" stroke="#000" stroke-width="1.6" />
<line x1="338.00" y1="326.10" x2="334.20" y2="326.10" stroke="#000" stroke-width="1.6" />
<line x1="338.00" y1="321.95" x2="334.20" y2="321.95" stroke="#000" stroke-width="1.6" />
<line x1="338.00" y1="317.80" x2="334.20" y2="317.80" stroke="#000" stroke-width="1.6" />
<line x1="338.00" y1="313.65" x2="334.20" y2="313.65" stroke="#000" stroke-width="1.6" />
<line x1="338.00" y1="309.50" x2="330.30" y2="309.50" stroke="#000" stroke-width="1.6" />
<line x1="338.00" y1="305.35" x2="334.20" y2="305.35" stroke="#000" stroke-width="1.6" />
<line x1="338.00" y1="301.20" x2="334.20" y2="301.20" stroke="#000" stroke-width="1.6" />
<line x1="338.00" y1="297.05" x2="334.20" y2="297.05" stroke="#000" stroke-width="1.6" />
<line x1="338.00" y1="292.90" x2="334.20" y2="292.90" stroke="#000" stroke-width="1.6" />
<line x1="338.00" y1="288.75" x2="330.30" y2="288.75" stroke="#000" stroke-width="1.6" />
<line x1="338.00" y1="284.60" x2="334.20" y2="284.60" stroke="#000" stroke-width="1.6" />
<line x1="338.00" y1="280.45" x2="334.20" y2="280.45" stroke="#000" stroke-width="1.6" />
<line x1="338.00" y1="276.30" x2="334.20" y2="276.30" stroke="#000" stroke-width="1.6" />
<line x1="338.00" y1="272.15" x2="334.20" y2="272.15" stroke="#000" stroke-width="1.6" />
<path d="M68.20,475.50V475.50H73.60V475.50H79.01V475.50H84.41V455.10H89.82V459.70H95.22V463.10H100.62V466.20H106.03V468.90H111.43V470.50H116.84V471.50H122.24V472.30H127.64V473.00H133.05V473.50H138.45V474.00H143.86V474.07H149.26V474.14H154.66V474.21H160.07V474.27H165.47V474.34H170.88V474.40H176.28V474.46H181.68V474.52H187.09V474.57H192.49V474.63H197.90V474.68H203.30V474.73H208.70V474.78H214.11V474.82H219.51V474.87H224.92V474.91H230.32V474.95H235.72V474.99H241.13V475.03H246.53V475.07H251.94V475.10H257.34V475.13H262.74V475.16H268.15V475.19H273.55V475.22H278.96V475.24H284.36V475.27H289.76V475.29H295.17V475.31H300.57V475.33H305.98V475.34H311.38V475.35H316.78V475.37H322.19V475.38H327.59V475.39H333.00V475.39H338.40V475.50Z" fill="#b4a99a" stroke="none"/>
<path d="M68.20,475.50V453.50H73.60V393.60H79.01V344.90H84.41V303.10H89.82V288.70H95.22V281.20H100.62V290.00H106.03V309.70H111.43V331.70H116.84V354.80H122.24V378.80H127.64V403.30H133.05V421.00H138.45V436.30H143.86V447.40H149.26V455.30H154.66V463.00H160.07V466.50H165.47V469.10H170.88V471.00H176.28V471.90H181.68V472.90H187.09V473.40H192.49V473.80H197.90V473.91H203.30V474.01H208.70V474.10H214.11V474.20H219.51V474.29H224.92V474.37H230.32V474.45H235.72V474.53H241.13V474.60H246.53V474.67H251.94V474.73H257.34V474.79H262.74V474.85H268.15V474.90H273.55V474.95H278.96V474.99H284.36V475.03H289.76V475.07H295.17V475.10H300.57V475.13H305.98V475.15H311.38V475.17H316.78V475.18H322.19V475.19H327.59V475.20H333.00V475.20H338.40" fill="none" stroke="#0000ff" stroke-width="1.35"/>
<path d="M68.20,475.50V468.10H73.60V440.40H79.01V411.40H84.41V383.50H89.82V371.00H95.22V360.80H100.62V360.00H106.03V371.20H111.43V381.80H116.84V394.30H122.24V409.00H127.64V423.20H133.05V435.60H138.45V444.60H143.86V452.60H149.26V460.60H154.66V465.40H160.07V468.20H165.47V470.00H170.88V471.30H176.28V472.20H181.68V472.90H187.09V473.07H192.49V473.23H197.90V473.39H203.30V473.54H208.70V473.68H214.11V473.82H219.51V473.95H224.92V474.08H230.32V474.19H235.72V474.31H241.13V474.42H246.53V474.52H251.94V474.61H257.34V474.70H262.74V474.78H268.15V474.86H273.55V474.93H278.96V474.99H284.36V475.05H289.76V475.10H295.17V475.15H300.57V475.19H305.98V475.22H311.38V475.25H316.78V475.27H322.19V475.29H327.59V475.30H333.00V475.30H338.40" fill="none" stroke="#0000ff" stroke-width="1.35" stroke-dasharray="3.5 3.5"/>
<path d="M68.20,475.50V454.30H73.60V388.90H79.01V343.10H84.41V333.00H89.82V347.50H95.22V361.20H100.62V378.40H106.03V388.00H111.43V400.30H116.84V410.00H122.24V419.00H127.64V428.20H133.05V435.50H138.45V444.80H143.86V449.90H149.26V453.60H154.66V458.30H160.07V461.60H165.47V464.40H170.88V466.70H176.28V467.80H181.68V469.10H187.09V470.10H192.49V471.00H197.90V471.70H203.30V472.20H208.70V472.41H214.11V472.62H219.51V472.81H224.92V472.99H230.32V473.17H235.72V473.34H241.13V473.50H246.53V473.64H251.94V473.78H257.34V473.92H262.74V474.04H268.15V474.15H273.55V474.25H278.96V474.35H284.36V474.43H289.76V474.51H295.17V474.58H300.57V474.64H305.98V474.69H311.38V474.73H316.78V474.76H322.19V474.78H327.59V474.80H333.00V474.80H338.40" fill="none" stroke="#ff0000" stroke-width="1.35"/>
<path d="M68.20,475.50V469.20H73.60V443.80H79.01V416.10H84.41V403.00H89.82V409.00H95.22V416.70H100.62V425.30H106.03V428.40H111.43V434.00H116.84V439.30H122.24V444.50H127.64V448.20H133.05V452.70H138.45V457.10H143.86V460.80H149.26V463.50H154.66V466.60H160.07V469.00H165.47V470.40H170.88V471.40H176.28V472.20H181.68V472.40H187.09V472.59H192.49V472.77H197.90V472.94H203.30V473.11H208.70V473.28H214.11V473.43H219.51V473.58H224.92V473.72H230.32V473.86H235.72V473.98H241.13V474.10H246.53V474.22H251.94V474.32H257.34V474.42H262.74V474.52H268.15V474.60H273.55V474.68H278.96V474.76H284.36V474.82H289.76V474.88H295.17V474.93H300.57V474.98H305.98V475.01H311.38V475.04H316.78V475.07H322.19V475.09H327.59V475.10H333.00V475.10H338.40" fill="none" stroke="#ff0000" stroke-width="1.35" stroke-dasharray="3.5 3.5"/>
<path d="M84.70,276.40C85.15,278.27 86.57,283.65 87.40,287.60C88.23,291.55 88.80,295.93 89.70,300.10C90.60,304.27 91.72,308.28 92.80,312.60C93.88,316.92 95.02,321.57 96.20,326.00C97.38,330.43 98.85,335.12 99.90,339.20C100.95,343.28 101.52,346.77 102.50,350.50C103.48,354.23 104.70,358.08 105.80,361.60C106.90,365.12 107.85,368.00 109.10,371.60C110.35,375.20 111.92,379.60 113.30,383.20C114.68,386.80 115.88,389.60 117.40,393.20C118.92,396.80 120.73,401.48 122.40,404.80C124.07,408.12 125.60,410.60 127.40,413.10C129.20,415.60 131.12,417.85 133.20,419.80C135.28,421.75 137.40,423.42 139.90,424.80C142.40,426.18 144.58,427.18 148.20,428.10C151.82,429.02 157.48,430.12 161.60,430.30C165.72,430.48 168.83,429.92 172.90,429.20C176.97,428.48 181.43,427.20 186.00,426.00C190.57,424.80 196.22,423.00 200.30,422.00C204.38,421.00 207.08,420.55 210.50,420.00C213.92,419.45 217.38,418.95 220.80,418.70C224.22,418.45 227.58,418.38 231.00,418.50C234.42,418.62 237.88,419.08 241.30,419.40C244.72,419.72 248.08,420.07 251.50,420.40C254.92,420.73 257.83,421.13 261.80,421.40C265.77,421.67 271.35,422.07 275.30,422.00C279.25,421.93 282.08,421.67 285.50,421.00C288.92,420.33 292.34,419.52 295.80,418.00C299.26,416.48 303.47,413.97 306.25,411.90C309.03,409.83 310.42,408.08 312.50,405.60C314.58,403.12 316.67,400.38 318.75,397.00C320.83,393.62 323.18,388.93 325.00,385.30C326.82,381.67 328.27,378.58 329.70,375.20C331.13,371.82 332.43,368.40 333.60,365.00C334.77,361.60 336.02,357.05 336.70,354.80C337.38,352.55 337.53,352.05 337.70,351.50" fill="none" stroke="#000" stroke-width="2"/>
<path d="M67.8,271.1H338.6V475.5H67.8Z" fill="none" stroke="#000" stroke-width="2" stroke-linejoin="miter"/>
<line x1="338.35" y1="270.10" x2="338.35" y2="476.50" stroke="#000" stroke-width="2.9" />
<text transform="translate(56.46,479.71) scale(1.0000,1)" font-family='"Liberation Sans", sans-serif' font-weight="bold" font-size="12.20">0</text>
<text transform="translate(36.10,453.87) scale(1.0000,1)" font-family='"Liberation Sans", sans-serif' font-weight="bold" font-size="12.20">1000</text>
<text transform="translate(36.10,428.02) scale(1.0000,1)" font-family='"Liberation Sans", sans-serif' font-weight="bold" font-size="12.20">2000</text>
<text transform="translate(36.10,402.18) scale(1.0000,1)" font-family='"Liberation Sans", sans-serif' font-weight="bold" font-size="12.20">3000</text>
<text transform="translate(36.10,376.34) scale(1.0000,1)" font-family='"Liberation Sans", sans-serif' font-weight="bold" font-size="12.20">4000</text>
<text transform="translate(36.10,350.49) scale(1.0000,1)" font-family='"Liberation Sans", sans-serif' font-weight="bold" font-size="12.20">5000</text>
<text transform="translate(36.10,324.65) scale(1.0000,1)" font-family='"Liberation Sans", sans-serif' font-weight="bold" font-size="12.20">6000</text>
<text transform="translate(36.10,298.81) scale(1.0000,1)" font-family='"Liberation Sans", sans-serif' font-weight="bold" font-size="12.20">7000</text>
<text transform="translate(64.44,488.84) scale(1.0000,1)" font-family='"Liberation Sans", sans-serif' font-weight="bold" font-size="12.20">0</text>
<text transform="translate(86.32,488.84) scale(1.0000,1)" font-family='"Liberation Sans", sans-serif' font-weight="bold" font-size="12.20">0.5</text>
<text transform="translate(118.24,488.72) scale(1.0000,1)" font-family='"Liberation Sans", sans-serif' font-weight="bold" font-size="12.20">1</text>
<text transform="translate(140.17,488.72) scale(1.0000,1)" font-family='"Liberation Sans", sans-serif' font-weight="bold" font-size="12.20">1.5</text>
<text transform="translate(172.52,488.84) scale(1.0000,1)" font-family='"Liberation Sans", sans-serif' font-weight="bold" font-size="12.20">2</text>
<text transform="translate(194.40,488.84) scale(1.0000,1)" font-family='"Liberation Sans", sans-serif' font-weight="bold" font-size="12.20">2.5</text>
<text transform="translate(226.63,488.84) scale(1.0000,1)" font-family='"Liberation Sans", sans-serif' font-weight="bold" font-size="12.20">3</text>
<text transform="translate(248.50,488.84) scale(1.0000,1)" font-family='"Liberation Sans", sans-serif' font-weight="bold" font-size="12.20">3.5</text>
<text transform="translate(280.48,488.72) scale(1.0000,1)" font-family='"Liberation Sans", sans-serif' font-weight="bold" font-size="12.20">4</text>
<text transform="translate(302.60,488.72) scale(1.0000,1)" font-family='"Liberation Sans", sans-serif' font-weight="bold" font-size="12.20">4.5</text>
<text transform="translate(334.58,488.72) scale(1.0000,1)" font-family='"Liberation Sans", sans-serif' font-weight="bold" font-size="12.20">5</text>
<text transform="translate(343.43,479.71) scale(1.0000,1)" font-family='"Liberation Sans", sans-serif' font-weight="bold" font-size="12.20">0</text>
<text transform="translate(343.43,458.96) scale(1.0000,1)" font-family='"Liberation Sans", sans-serif' font-weight="bold" font-size="12.20">0.01</text>
<text transform="translate(343.43,438.21) scale(1.0000,1)" font-family='"Liberation Sans", sans-serif' font-weight="bold" font-size="12.20">0.02</text>
<text transform="translate(343.43,417.46) scale(1.0000,1)" font-family='"Liberation Sans", sans-serif' font-weight="bold" font-size="12.20">0.03</text>
<text transform="translate(343.43,396.71) scale(1.0000,1)" font-family='"Liberation Sans", sans-serif' font-weight="bold" font-size="12.20">0.04</text>
<text transform="translate(343.43,375.96) scale(1.0000,1)" font-family='"Liberation Sans", sans-serif' font-weight="bold" font-size="12.20">0.05</text>
<text transform="translate(343.43,355.21) scale(1.0000,1)" font-family='"Liberation Sans", sans-serif' font-weight="bold" font-size="12.20">0.06</text>
<text transform="translate(343.43,334.46) scale(1.0000,1)" font-family='"Liberation Sans", sans-serif' font-weight="bold" font-size="12.20">0.07</text>
<text transform="translate(343.43,313.71) scale(1.0000,1)" font-family='"Liberation Sans", sans-serif' font-weight="bold" font-size="12.20">0.08</text>
<text transform="translate(343.43,292.96) scale(1.0000,1)" font-family='"Liberation Sans", sans-serif' font-weight="bold" font-size="12.20">0.09</text>
<text transform="translate(182.86,504.93) scale(1.3185,1)" font-family='"Liberation Serif", serif' font-weight="normal" font-size="14.63" fill="#000">μ</text>
<text transform="translate(196.78,506.00) scale(1.0361,1)" font-family='"Liberation Sans", sans-serif' font-weight="bold" font-size="14.80" fill="#000">momentum (GeV/c)</text>
<text transform="translate(19.80,498.52) rotate(-90) scale(0.9901,1)" font-family='"Liberation Sans", sans-serif' font-weight="bold" font-size="15.50">Events / 0.1 GeV / 6.6 x 10</text>
<text transform="translate(12.10,309.46) rotate(-90) scale(0.8352,1)" font-family='"Liberation Sans", sans-serif' font-weight="bold" font-size="10.30">20</text>
<text transform="translate(19.60,294.16) rotate(-90) scale(0.9299,1)" font-family='"Liberation Sans", sans-serif' font-weight="bold" font-size="15.50">pot</text>
<text transform="translate(383.60,418.22) rotate(-90) scale(1.0042,1)" font-family='"Liberation Sans", sans-serif' font-weight="bold" font-size="15.20">Muon Charge mis-ID</text>
<rect x="238.9" y="271.1" width="78.49999999999997" height="54.099999999999966" fill="#fff" stroke="#000" stroke-width="1.8"/>
<line x1="242.00" y1="276.90" x2="256.00" y2="276.90" stroke="#0000ff" stroke-width="1.6" />
<text transform="translate(259.38,278.60) scale(0.7947,1)" font-family='"Liberation Serif", serif' font-weight="bold" font-size="9.79" fill="#000">ν</text>
<text transform="translate(263.74,281.50) scale(1.0939,1)" font-family='"Liberation Serif", serif' font-weight="normal" font-size="5.22" fill="#000">μ</text>
<line x1="258.90" y1="273.10" x2="263.40" y2="273.10" stroke="#000" stroke-width="1.1" />
<text transform="translate(267.85,278.60) scale(0.9437,1)" font-family='"Liberation Sans", sans-serif' font-weight="bold" font-size="9.20" fill="#000">CC</text>
<line x1="242.00" y1="287.80" x2="256.00" y2="287.80" stroke="#0000ff" stroke-width="1.6" stroke-dasharray="3.5 3.5"/>
<text transform="translate(259.38,289.20) scale(0.7947,1)" font-family='"Liberation Serif", serif' font-weight="bold" font-size="9.79" fill="#000">ν</text>
<text transform="translate(263.74,292.10) scale(1.0939,1)" font-family='"Liberation Serif", serif' font-weight="normal" font-size="5.22" fill="#000">μ</text>
<line x1="258.90" y1="283.70" x2="263.40" y2="283.70" stroke="#000" stroke-width="1.1" />
<text transform="translate(268.04,289.20) scale(0.9895,1)" font-family='"Liberation Sans", sans-serif' font-weight="bold" font-size="9.20" fill="#000">CCQE</text>
<line x1="242.00" y1="298.50" x2="256.00" y2="298.50" stroke="#ff0000" stroke-width="1.6" />
<text transform="translate(259.38,299.70) scale(0.7947,1)" font-family='"Liberation Serif", serif' font-weight="bold" font-size="9.79" fill="#000">ν</text>
<text transform="translate(263.74,302.60) scale(1.0939,1)" font-family='"Liberation Serif", serif' font-weight="normal" font-size="5.22" fill="#000">μ</text>
<text transform="translate(267.85,299.70) scale(0.9437,1)" font-family='"Liberation Sans", sans-serif' font-weight="bold" font-size="9.20" fill="#000">CC</text>
<line x1="242.00" y1="309.40" x2="256.00" y2="309.40" stroke="#ff0000" stroke-width="1.6" stroke-dasharray="3.5 3.5"/>
<text transform="translate(259.38,310.60) scale(0.7947,1)" font-family='"Liberation Serif", serif' font-weight="bold" font-size="9.79" fill="#000">ν</text>
<text transform="translate(263.74,313.50) scale(1.0939,1)" font-family='"Liberation Serif", serif' font-weight="normal" font-size="5.22" fill="#000">μ</text>
<text transform="translate(268.04,310.60) scale(0.9895,1)" font-family='"Liberation Sans", sans-serif' font-weight="bold" font-size="9.20" fill="#000">CCQE</text>
<rect x="242" y="316.5" width="14" height="7.3" fill="#b4a99a"/>
<text transform="translate(259.48,321.52) scale(0.9641,1)" font-family='"Liberation Serif", serif' font-weight="bold" font-size="8.30" fill="#000">ν</text>
<text transform="translate(263.84,323.99) scale(1.3202,1)" font-family='"Liberation Serif", serif' font-weight="normal" font-size="4.33" fill="#000">μ</text>
<text transform="translate(270.44,321.50) scale(0.9903,1)" font-family='"Liberation Sans", sans-serif' font-weight="bold" font-size="9.20" fill="#000">CC mis-id</text>
<line x1="241.60" y1="341.80" x2="255.70" y2="341.80" stroke="#000" stroke-width="1.8" />
<text transform="translate(258.13,347.20) scale(1.0016,1)" font-family='"Liberation Sans", sans-serif' font-weight="bold" font-size="12.80" fill="#000">mis-ID</text>
</svg></body></html>
